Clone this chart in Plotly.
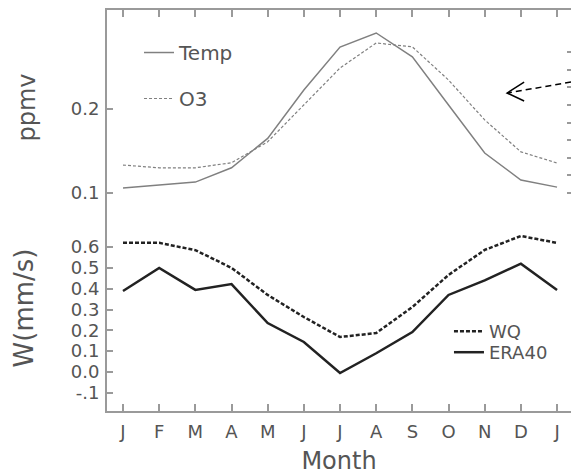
import plotly.graph_objects as go

months = list(range(1, 14))
month_labels = ["J", "F", "M", "A", "M", "J", "J", "A", "S", "O", "N", "D", "J"]

temp = [0.106, 0.1095, 0.113, 0.130, 0.165, 0.2226, 0.2738, 0.2905, 0.262, 0.2048, 0.1476, 0.1155, 0.107]
o3 = [0.1333, 0.130, 0.130, 0.136, 0.161, 0.2048, 0.2488, 0.2786, 0.274, 0.2345, 0.187, 0.149, 0.1357]

wq = [0.62, 0.62, 0.585, 0.50, 0.37, 0.264, 0.168, 0.187, 0.312, 0.466, 0.586, 0.653, 0.62]
era40 = [0.389, 0.50, 0.394, 0.422, 0.235, 0.144, -0.005, 0.09, 0.192, 0.37, 0.44, 0.52, 0.394]

top_ticks = [0.1, 0.2]
bottom_ticks = [-0.1, 0.0, 0.1, 0.2, 0.3, 0.4, 0.5, 0.6]
bottom_tick_labels = ["-.1", "0.0", "0.1", "0.2", "0.3", "0.4", "0.5", "0.6"]
right_ticks = list(range(0, 9))

AX = "#9a9a9a"
TXT = "#555555"
FONT = "DejaVu Sans"

fig = go.Figure()
fig.add_trace(go.Scatter(x=months, y=temp, mode="lines", name="Temp",
                         line=dict(color="#808080", width=1.5),
                         xaxis="x2", yaxis="y2", legend="legend", legendgroup="a"))
fig.add_trace(go.Scatter(x=months, y=o3, mode="lines", name="O3",
                         line=dict(color="#808080", width=1.2, dash="3px,2px"),
                         xaxis="x2", yaxis="y2", legend="legend", legendgroup="b"))
fig.add_trace(go.Scatter(x=months, y=wq, mode="lines", name="WQ",
                         line=dict(color="#222222", width=2.5, dash="4px,2px"),
                         xaxis="x", yaxis="y", legend="legend2"))
fig.add_trace(go.Scatter(x=months, y=era40, mode="lines", name="ERA40",
                         line=dict(color="#222222", width=2.5),
                         xaxis="x", yaxis="y", legend="legend3"))
# helper trace so the right-hand tick axis is drawn
fig.add_trace(go.Scatter(x=[None], y=[None], xaxis="x2", yaxis="y3",
                         showlegend=False, hoverinfo="skip"))

split = 0.5137
xr = [0.5577, 13.386]

fig.update_layout(
    width=571, height=476,
    margin=dict(l=107, r=0, t=10, b=65),
    paper_bgcolor="white", plot_bgcolor="white",
    font=dict(family=FONT, color=TXT, size=18),
    xaxis=dict(domain=[0, 1], range=xr, anchor="y",
               tickvals=months, ticktext=month_labels,
               ticks="inside", ticklen=7, tickcolor=AX, tickwidth=1.5,
               showline=True, linecolor=AX, linewidth=2,
               showgrid=False, zeroline=False,
               ticklabelstandoff=3,
               tickfont=dict(size=18, color=TXT),
               title=dict(text="Month", font=dict(size=24, color=TXT), standoff=12)),
    xaxis2=dict(domain=[0, 1], range=xr, anchor="y2", side="top",
                tickvals=months, showticklabels=False,
                ticks="inside", ticklen=7, tickcolor=AX, tickwidth=1.5,
                showline=True, linecolor=AX, linewidth=2,
                showgrid=False, zeroline=False),
    yaxis=dict(domain=[0, split], range=[-0.1872, 0.8017], anchor="x",
               tickvals=bottom_ticks, ticktext=bottom_tick_labels,
               ticks="inside", ticklen=6, tickcolor=AX, tickwidth=1.5,
               showline=True, linecolor=AX, linewidth=2,
               showgrid=False, zeroline=False, ticklabelstandoff=2,
               tickfont=dict(size=18, color=TXT),
               title=dict(text="W(mm/s)", font=dict(size=26, color=TXT), standoff=30)),
    yaxis2=dict(domain=[split, 1], range=[0.08571, 0.31786], anchor="x2",
                tickvals=top_ticks, ticktext=["0.1", "0.2"],
                ticks="inside", ticklen=6, tickcolor=AX, tickwidth=1.5,
                showline=True, linecolor=AX, linewidth=2,
                showgrid=False, zeroline=False, ticklabelstandoff=2,
                tickfont=dict(size=18, color=TXT),
                title=dict(text="ppmv", font=dict(size=24, color=TXT), standoff=28)),
    yaxis3=dict(range=[-0.682, 10.398], overlaying="y2",
                anchor="x2", side="right",
                tickvals=right_ticks, showticklabels=False,
                ticks="inside", ticklen=4, tickcolor=AX, tickwidth=1.5,
                showline=False, linecolor="rgba(0,0,0,0)", linewidth=0,
                showgrid=False, zeroline=False),
    legend=dict(x=0.069, y=0.9426, xanchor="left", yanchor="top",
                bgcolor="rgba(0,0,0,0)", borderwidth=0,
                font=dict(size=20, color=TXT), tracegroupgap=17,
                traceorder="grouped", itemwidth=30),
    legend2=dict(x=0.737, y=0.2444, xanchor="left", yanchor="top",
                 bgcolor="rgba(0,0,0,0)", borderwidth=0,
                 font=dict(size=18, color=TXT), itemwidth=30),
    legend3=dict(x=0.737, y=0.192, xanchor="left", yanchor="top",
                 bgcolor="rgba(0,0,0,0)", borderwidth=0,
                 font=dict(size=18, color=TXT), itemwidth=30),
    shapes=[
        dict(type="line", xref="x2", yref="y2", x0=13.386, y0=0.2321, x1=11.62, y1=0.219,
             line=dict(color="black", width=1.5, dash="6px,4px")),
        dict(type="path", xref="x2", yref="y2",
             path="M 12.09 0.2321 L 11.62 0.219 L 12.09 0.2095",
             line=dict(color="black", width=1.5)),
    ],
)

fig.write_html("out.html")
